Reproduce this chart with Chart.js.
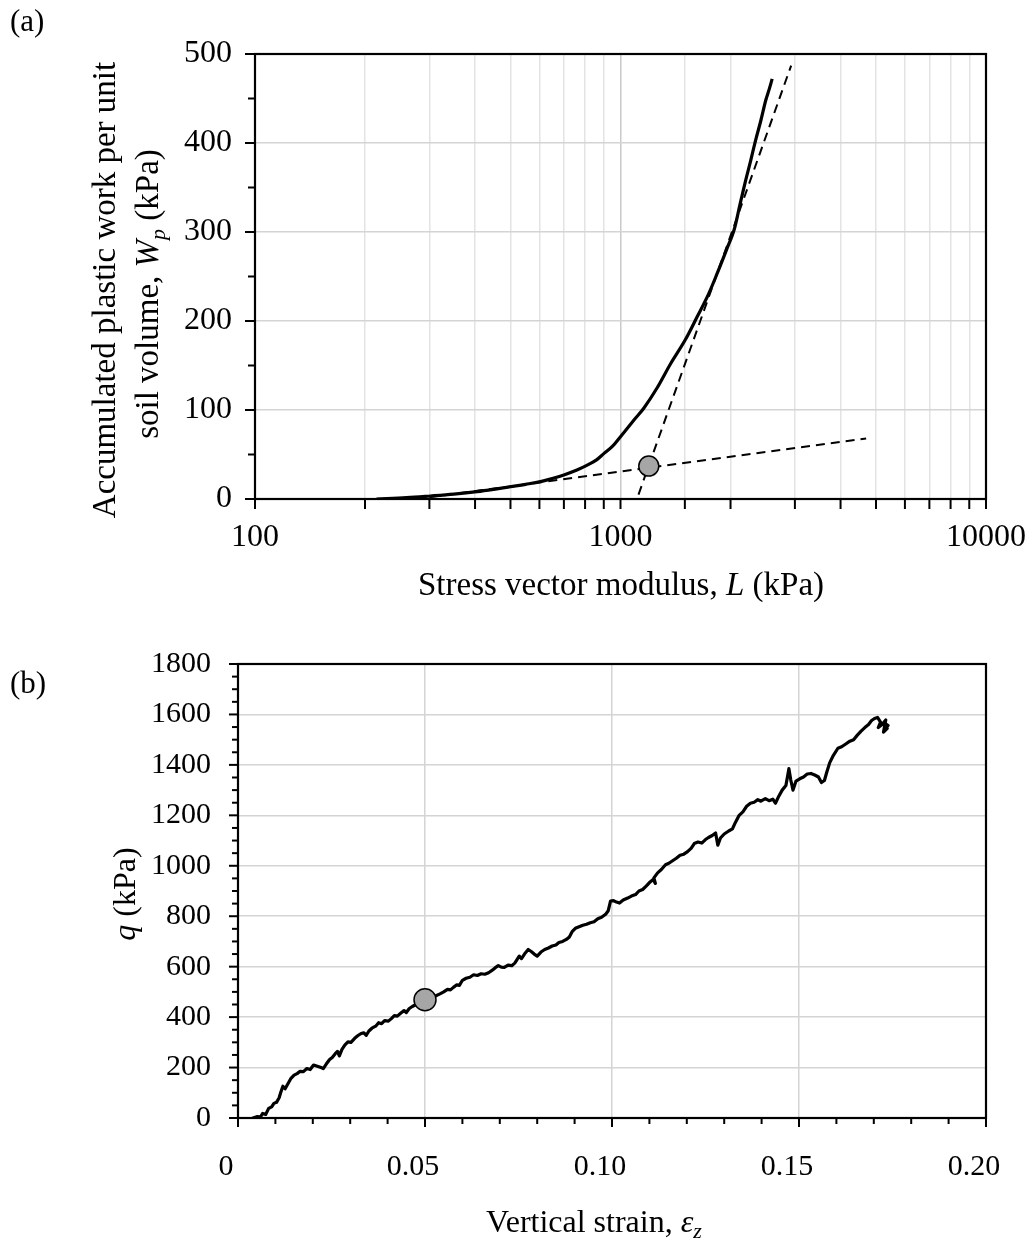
<!DOCTYPE html>
<html>
<head>
<meta charset="utf-8">
<title>Plastic work and deviator stress</title>
<script src="https://cdn.jsdelivr.net/npm/chart.js@4.4.1/dist/chart.umd.min.js"></script>
<style>
  html, body { margin: 0; padding: 0; background: #fff; }
  #wrap { position: relative; width: 1032px; height: 1238px; }
  canvas { position: absolute; left: 0; }
  #chartA { top: 0; }
  #chartB { top: 620px; }
</style>
</head>
<body>
<div id="wrap">
  <canvas id="chartA" width="1032" height="620"></canvas>
  <canvas id="chartB" width="1032" height="618"></canvas>
</div>
<script>
'use strict';

// --- (a) accumulated plastic work vs stress vector modulus ---
const stressL = [215, 260, 302, 350, 405, 450, 500, 550, 604, 650, 700, 760, 811, 860, 900, 950,
                 1000, 1090, 1158, 1260, 1371, 1500, 1622, 1740, 1841, 1950, 2044, 2120, 2200,
                 2270, 2342, 2420, 2497, 2550, 2600];
const plasticW = [0, 1.5, 3.4, 5.5, 8.2, 10.8, 13.8, 16.5, 19.5, 23, 27, 32.5, 38, 44, 51, 59,
                  70, 89, 102, 125, 152, 178, 205, 230, 254, 280, 302, 330, 358,
                  380, 403, 425, 448, 460, 472];
// the two fitted straight lines (semi-log) and their intersection
const fitLowL = [300, 4700];
const fitLowW = [2, 68];
const fitHighL = [1120, 2930];
const fitHighW = [5, 487];
const yieldL = [1195];
const yieldW = [37];
const decadeTicks = [100, 1000, 10000];
const workTicks = [0, 100, 200, 300, 400, 500];

// --- (b) deviator stress vs vertical strain ---
const strainZ = [
  0.0040, 0.0052, 0.0060, 0.0066, 0.0074, 0.0082, 0.0090, 0.0096, 0.0103, 0.0110,
  0.0114, 0.0120, 0.0126, 0.0132, 0.0141, 0.0150, 0.0158, 0.0166, 0.0175, 0.0184,
  0.0193, 0.0202, 0.0212, 0.0222, 0.0228, 0.0236, 0.0245, 0.0252, 0.0260, 0.0266,
  0.0271, 0.0278, 0.0286, 0.0294, 0.0302, 0.0312, 0.0320, 0.0328, 0.0336, 0.0343,
  0.0350, 0.0358, 0.0368, 0.0376, 0.0384, 0.0392, 0.0402, 0.0410, 0.0418, 0.0426,
  0.0434, 0.0444, 0.0450, 0.0458, 0.0466, 0.0476, 0.0486, 0.0500, 0.0515, 0.0528,
  0.0540, 0.0550, 0.0560, 0.0568, 0.0576, 0.0585, 0.0592, 0.0600, 0.0610, 0.0620,
  0.0630, 0.0640, 0.0650, 0.0660, 0.0670, 0.0680, 0.0688, 0.0696, 0.0704, 0.0712,
  0.0722, 0.0732, 0.0740, 0.0746, 0.0752, 0.0758, 0.0766, 0.0776, 0.0784, 0.0792,
  0.0800, 0.0810, 0.0820, 0.0830, 0.0840, 0.0850, 0.0858, 0.0868, 0.0878, 0.0886,
  0.0894, 0.0902, 0.0912, 0.0922, 0.0932, 0.0942, 0.0952, 0.0962, 0.0972, 0.0983,
  0.0990, 0.0996, 0.1004, 0.1012, 0.1020, 0.1030, 0.1042, 0.1052, 0.1063, 0.1072,
  0.1082, 0.1092, 0.1102, 0.1110, 0.1116, 0.1112, 0.1122, 0.1132, 0.1143, 0.1152,
  0.1162, 0.1172, 0.1182, 0.1192, 0.1202, 0.1212, 0.1220, 0.1230, 0.1240, 0.1250,
  0.1258, 0.1268, 0.1277, 0.1283, 0.1290, 0.1300, 0.1312, 0.1322, 0.1330, 0.1340,
  0.1350, 0.1360, 0.1370, 0.1380, 0.1390, 0.1398, 0.1410, 0.1420, 0.1430, 0.1437,
  0.1446, 0.1455, 0.1465, 0.1473, 0.1478, 0.1484, 0.1492, 0.1502, 0.1512, 0.1522,
  0.1532, 0.1542, 0.1552, 0.1560, 0.1568, 0.1574, 0.1582, 0.1592, 0.1604, 0.1614,
  0.1626, 0.1636, 0.1646, 0.1656, 0.1666, 0.1676, 0.1686, 0.1694, 0.1702, 0.1710,
  0.1718, 0.1712, 0.1722, 0.1732, 0.1726, 0.1736, 0.1730, 0.1738];
const devQ = [
  0, 6, 4, 18, 14, 38, 44, 58, 62, 80,
  100, 126, 116, 132, 156, 170, 176, 185, 184, 196,
  192, 210, 205, 200, 196, 214, 232, 240, 255, 264,
  246, 272, 290, 302, 300, 316, 326, 334, 338, 328,
  345, 356, 364, 378, 374, 386, 384, 394, 406, 404,
  414, 426, 418, 434, 442, 450, 458, 469, 478, 484,
  492, 500, 510, 508, 518, 528, 526, 546, 554, 558,
  568, 565, 572, 570, 576, 586, 596, 604, 598, 597,
  606, 604, 614, 628, 642, 632, 650, 668, 660, 650,
  642, 658, 668, 674, 682, 686, 696, 700, 708, 718,
  740, 752, 758, 764, 768, 774, 778, 790, 796, 808,
  822, 860, 862, 856, 852, 864, 872, 880, 886, 900,
  906, 920, 936, 946, 930, 952, 972, 985, 1004, 1010,
  1020, 1030, 1042, 1046, 1056, 1070, 1088, 1094, 1090, 1104,
  1112, 1120, 1130, 1082, 1110, 1126, 1138, 1146, 1172, 1200,
  1214, 1236, 1248, 1252, 1262, 1256, 1266, 1258, 1264, 1248,
  1276, 1300, 1318, 1385, 1340, 1300, 1336, 1345, 1352, 1364,
  1366, 1360, 1352, 1330, 1338, 1370, 1408, 1438, 1466, 1472,
  1484, 1494, 1500, 1518, 1534, 1548, 1560, 1576, 1584, 1588,
  1570, 1548, 1560, 1578, 1530, 1545, 1565, 1556];
const yieldStrain = [0.05];
const yieldQ = [469];
const strainTicks = [0, 0.05, 0.10, 0.15, 0.20];
const strainTickText = ['0', '0.05', '0.10', '0.15', '0.20'];
const qTicks = [0, 200, 400, 600, 800, 1000, 1200, 1400, 1600, 1800];

const SERIF = '"Liberation Serif", "Times New Roman", Times, serif';
const GRID = '#d4d4d4';
const NONE = 'rgba(0,0,0,0)';

function pts(xs, ys) {
  return xs.map((x, i) => ({ x: x, y: ys[i] }));
}

function minorValues(step, count, every) {
  const out = [];
  for (let i = 1; i < count; i++) {
    if (i % every !== 0) out.push(+(i * step).toFixed(6));
  }
  return out;
}

// text made of plain / italic / subscript pieces, optionally rotated
function drawRich(ctx, item) {
  const size = item.size;
  const parts = item.parts.map(p => (typeof p === 'string' ? { t: p } : Object.assign({}, p)));
  const fontOf = p => (p.italic ? 'italic ' : '') + Math.round(p.sub ? size * 0.68 : size) + 'px ' + SERIF;
  let total = 0;
  parts.forEach(p => { ctx.font = fontOf(p); p.w = ctx.measureText(p.t).width; total += p.w; });
  ctx.save();
  ctx.translate(item.x, item.y);
  if (item.rotate) ctx.rotate(-Math.PI / 2);
  ctx.fillStyle = '#000';
  ctx.textAlign = 'left';
  ctx.textBaseline = 'alphabetic';
  let cx = item.align === 'left' ? 0 : -total / 2;
  parts.forEach(p => {
    ctx.font = fontOf(p);
    ctx.fillText(p.t, cx, p.sub ? size * 0.2 : 0);
    cx += p.w;
  });
  ctx.restore();
}

// box around the plot, outside tick marks and the axis titles
function makeFrame(cfg) {
  return {
    id: 'frame',
    afterDraw(chart) {
      const ctx = chart.ctx;
      const a = chart.chartArea;
      const sx = chart.scales.x;
      const sy = chart.scales.y;
      ctx.save();
      ctx.strokeStyle = '#000';
      ctx.lineWidth = 2;
      const line = (x1, y1, x2, y2) => { ctx.beginPath(); ctx.moveTo(x1, y1); ctx.lineTo(x2, y2); ctx.stroke(); };
      sx.ticks.forEach(t => { const p = sx.getPixelForValue(t.value); line(p, a.bottom, p, a.bottom + cfg.xLen); });
      cfg.xMinor.forEach(v => { const p = sx.getPixelForValue(v); line(p, a.bottom, p, a.bottom + cfg.xMinorLen); });
      sy.ticks.forEach(t => { const p = sy.getPixelForValue(t.value); line(a.left, p, a.left - cfg.yLen, p); });
      cfg.yMinor.forEach(v => { const p = sy.getPixelForValue(v); line(a.left, p, a.left - cfg.yMinorLen, p); });
      ctx.lineWidth = 2.2;
      ctx.strokeRect(a.left, a.top, a.right - a.left, a.bottom - a.top);
      ctx.restore();
      cfg.texts.forEach(t => drawRich(ctx, t));
    }
  };
}

function noSidePadding(s) {
  s.paddingLeft = 0;
  s.paddingRight = 0;
  s.paddingTop = 0;
  s.paddingBottom = 0;
}

function baseOptions(top) {
  return {
    responsive: false,
    animation: false,
    events: [],
    plugins: { legend: { display: false }, tooltip: { enabled: false } },
    layout: { padding: { left: 0, right: 46, top: top, bottom: 0 } }
  };
}

// ---------- chart (a) ----------
const fontA = { family: SERIF, size: 32 };
const optA = baseOptions(54);
optA.scales = {
  x: {
    type: 'logarithmic',
    min: 100,
    max: 10000,
    border: { display: false },
    grid: {
      drawTicks: false,
      lineWidth: 1.5,
      color: c => (decadeTicks.includes(c.tick.value) ? '#cacaca' : '#e3e3e3')
    },
    ticks: {
      autoSkip: false,
      maxRotation: 0,
      minRotation: 0,
      padding: 19,
      color: '#000',
      font: fontA,
      callback: v => (decadeTicks.includes(v) ? String(v) : '')
    },
    afterFit: s => { s.height = 121; noSidePadding(s); }
  },
  y: {
    min: 0,
    max: 500,
    border: { display: false },
    afterBuildTicks: s => { s.ticks = workTicks.map(v => ({ value: v })); },
    grid: { drawTicks: false, lineWidth: 1.5, color: c => (c.tick.value === 0 ? NONE : GRID) },
    ticks: { padding: 23, color: '#000', font: fontA, callback: v => String(v) },
    afterFit: s => { s.width = 255; noSidePadding(s); }
  }
};

const frameA = makeFrame({
  xLen: 10, xMinor: [], xMinorLen: 0,
  yLen: 10, yMinor: minorValues(50, 10, 2), yMinorLen: 7,
  texts: [
    { x: 10, y: 31, size: 31, align: 'left', parts: ['(a)'] },
    { x: 621, y: 595, size: 33, parts: ['Stress vector modulus, ', { t: 'L', italic: true }, ' (kPa)'] },
    { x: 115, y: 290, size: 33, rotate: true, parts: ['Accumulated plastic work per unit'] },
    { x: 158, y: 294, size: 33, rotate: true,
      parts: ['soil volume, ', { t: 'W', italic: true }, { t: 'p', italic: true, sub: true }, ' (kPa)'] }
  ]
});

new Chart(document.getElementById('chartA'), {
  type: 'scatter',
  data: {
    datasets: [
      { data: pts(yieldL, yieldW), showLine: false, pointRadius: 10,
        pointBackgroundColor: '#a6a6a6', pointBorderColor: '#000', pointBorderWidth: 1.5 },
      { data: pts(stressL, plasticW), showLine: true, borderColor: '#000', borderWidth: 3.2,
        tension: 0.35, pointRadius: 0, borderJoinStyle: 'round' },
      { data: pts(fitLowL, fitLowW), showLine: true, borderColor: '#000', borderWidth: 2,
        borderDash: [9, 6], pointRadius: 0 },
      { data: pts(fitHighL, fitHighW), showLine: true, borderColor: '#000', borderWidth: 2,
        borderDash: [9, 6], pointRadius: 0 }
    ]
  },
  options: optA,
  plugins: [frameA]
});

// ---------- chart (b) ----------
const fontB = { family: SERIF, size: 30 };
const optB = baseOptions(44);
optB.scales = {
  x: {
    type: 'linear',
    min: 0,
    max: 0.2,
    border: { display: false },
    afterBuildTicks: s => { s.ticks = strainTicks.map(v => ({ value: v })); },
    grid: { drawTicks: false, lineWidth: 1.5, color: c => (c.tick.value === 0 ? NONE : GRID) },
    ticks: {
      autoSkip: false,
      maxRotation: 0,
      minRotation: 0,
      padding: 31,
      labelOffset: -12,
      color: '#000',
      font: fontB,
      callback: (v, i) => strainTickText[i]
    },
    afterFit: s => { s.height = 120; noSidePadding(s); }
  },
  y: {
    min: 0,
    max: 1800,
    border: { display: false },
    afterBuildTicks: s => { s.ticks = qTicks.map(v => ({ value: v })); },
    grid: { drawTicks: false, lineWidth: 1.5, color: c => (c.tick.value === 0 ? NONE : GRID) },
    ticks: { padding: 27, color: '#000', font: fontB, callback: v => String(v) },
    afterFit: s => { s.width = 238; noSidePadding(s); }
  }
};

const frameB = makeFrame({
  xLen: 9, xMinor: minorValues(0.01, 20, 5), xMinorLen: 6,
  yLen: 9, yMinor: minorValues(50, 36, 4), yMinorLen: 6,
  texts: [
    { x: 10, y: 73, size: 31, align: 'left', parts: ['(b)'] },
    { x: 594, y: 612, size: 32, parts: ['Vertical strain, ', { t: 'ε', italic: true }, { t: 'z', italic: true, sub: true }] },
    { x: 135, y: 274, size: 32, rotate: true, parts: [{ t: 'q', italic: true }, ' (kPa)'] }
  ]
});

new Chart(document.getElementById('chartB'), {
  type: 'scatter',
  data: {
    datasets: [
      { data: pts(yieldStrain, yieldQ), showLine: false, pointRadius: 11,
        pointBackgroundColor: '#a6a6a6', pointBorderColor: '#000', pointBorderWidth: 1.5 },
      { data: pts(strainZ, devQ), showLine: true, borderColor: '#000', borderWidth: 3.2,
        pointRadius: 0, borderJoinStyle: 'round', borderCapStyle: 'round' }
    ]
  },
  options: optB,
  plugins: [frameB]
});
</script>
</body>
</html>
